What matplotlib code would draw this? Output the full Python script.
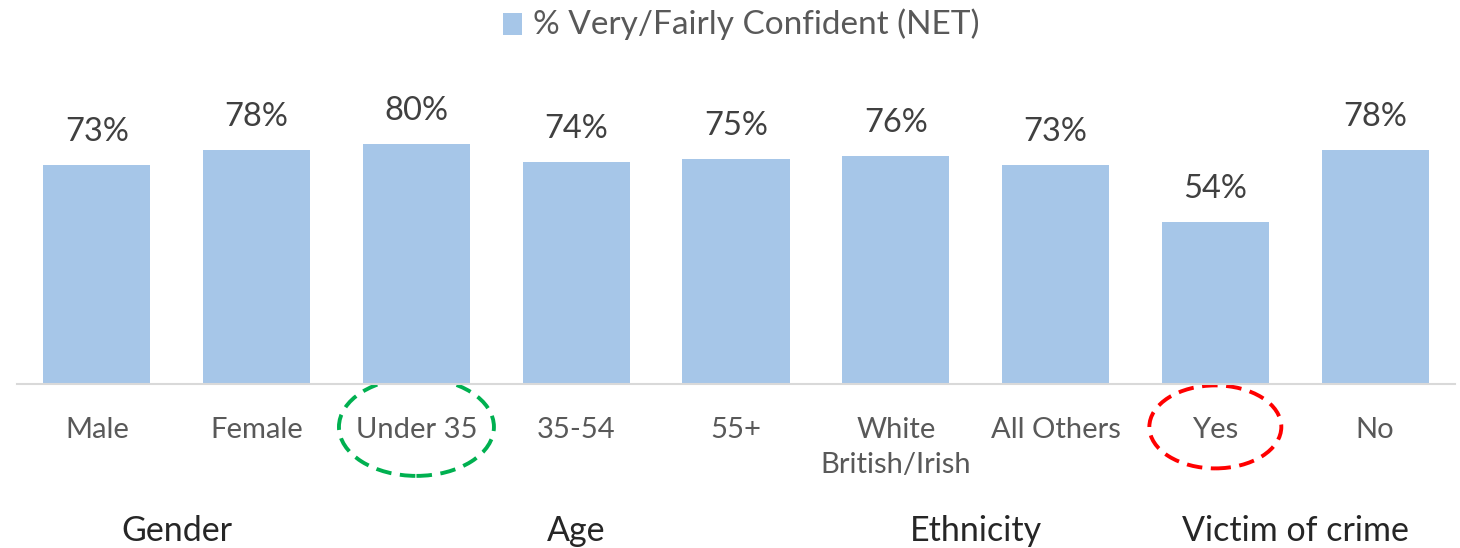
import matplotlib
matplotlib.use("Agg")
import matplotlib.pyplot as plt
from matplotlib.patches import Ellipse, Rectangle
import matplotlib.transforms as mtransforms

categories = ["Male", "Female", "Under 35", "35-54", "55+", "White\nBritish/Irish", "All Others", "Yes", "No"]
values = [73, 78, 80, 74, 75, 76, 73, 54, 78]
value_labels = ["73%", "78%", "80%", "74%", "75%", "76%", "73%", "54%", "78%"]
groups = ["Gender", "Age", "Ethnicity", "Victim of crime"]
group_pos = [0.5, 3.0, 5.5, 7.5]
legend_label = "% Very/Fairly Confident (NET)"

plt.rcParams['font.family'] = ['Lato', 'DejaVu Sans']
TXT = "#595959"
BAR = "#A6C6E8"

fig = plt.figure(figsize=(14.6, 5.48), dpi=100)
ax = fig.add_axes([17/1460, 164/548, 1438/1460, 300/548])
x = list(range(len(categories)))
ax.bar(x, values, width=0.67, color=BAR, zorder=2)
ax.set_xlim(-0.5, len(categories) - 0.5)
ax.set_ylim(0, 100)
for s in ["top", "right", "left"]:
    ax.spines[s].set_visible(False)
ax.spines["bottom"].set_color("#D9D9D9")
ax.spines["bottom"].set_linewidth(1.5)
ax.set_yticks([])
ax.set_xticks(x)
ax.set_xticklabels(categories, fontsize=21, color=TXT, linespacing=1.4)
ax.tick_params(axis="x", length=0, pad=24)

for xi, v, lab in zip(x, values, value_labels):
    ax.text(xi, v + 11.0, lab, ha="center", va="center", fontsize=23.5, color="#404040")

trans = mtransforms.blended_transform_factory(ax.transData, fig.transFigure)
for g, gp in zip(groups, group_pos):
    ax.text(gp, 1 - 531/548, g, ha="center", va="center", fontsize=24.5, color="#262626", transform=trans)

# ellipses
ax.add_patch(Ellipse((2, -14.3), 155/159.8, 98/3, fill=False, edgecolor="#00B050",
                     linestyle=(0, (4, 2.2)), linewidth=2.8, clip_on=False))
ax.add_patch(Ellipse((7, -14.3), 132/159.8, 83/3, fill=False, edgecolor="#FF0000",
                     linestyle=(0, (4, 2.2)), linewidth=2.8, clip_on=False))

# legend
fig.patches.append(Rectangle((503/1460, 1 - 35/548), 19/1460, 22/548, transform=fig.transFigure,
                             facecolor=BAR, edgecolor="none"))
fig.text(533/1460, 1 - 24/548, legend_label, ha="left", va="center", fontsize=24, color=TXT)

fig.savefig("out.png", dpi=100)
